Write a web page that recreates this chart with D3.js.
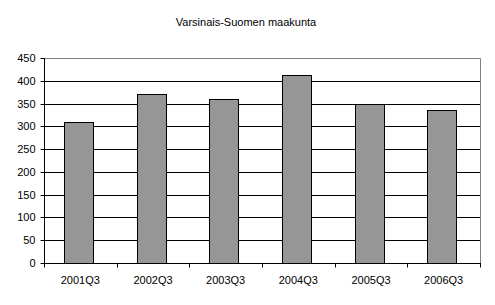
<!DOCTYPE html>
<html>
<head>
<meta charset="utf-8">
<script src="https://cdn.jsdelivr.net/npm/d3@7"></script>
<style>
  body { margin: 0; background: #fff; }
  text { font-family: 'Liberation Sans', Arial, sans-serif; fill: #000; }
</style>
</head>
<body>
<div id="bar-chart"></div>
<script>
const title = 'Varsinais-Suomen maakunta';
const categories = ['2001Q3', '2002Q3', '2003Q3', '2004Q3', '2005Q3', '2006Q3'];
const values = [310, 370, 360, 412, 349, 335];
const yTicks = [0, 50, 100, 150, 200, 250, 300, 350, 400, 450];

const width = 495;
const height = 305;
const margin = { top: 58, right: 15, bottom: 42, left: 44 };

const x_scale = d3
  .scaleBand()
  .range([margin.left, width - margin.right])
  .domain(categories)
  .paddingInner(0.6)
  .paddingOuter(0.3)
  .align(0.46);
// band edges for the category ticks
const x_edges = d3
  .scaleBand()
  .range([margin.left, width - margin.right])
  .domain(categories);
const y_scale = d3
  .scaleLinear()
  .range([height - margin.bottom, margin.top])
  .domain([0, 450]);

const svg = d3
  .select('#bar-chart')
  .append('svg')
  .attr('width', width)
  .attr('height', height)
  .attr('viewBox', [0, 0, width, height]);

svg
  .append('text')
  .attr('x', 246)
  .attr('y', 26)
  .attr('text-anchor', 'middle')
  .style('font-size', '11px')
  .text(title);

// gridlines
svg
  .append('g')
  .selectAll('line')
  .data(yTicks.filter((d) => d > 0 && d < 450))
  .enter()
  .append('line')
  .attr('x1', margin.left)
  .attr('x2', width - margin.right)
  .attr('y1', (d) => Math.round(y_scale(d)) + 0.5)
  .attr('y2', (d) => Math.round(y_scale(d)) + 0.5)
  .attr('stroke', '#000');

// plot area border (top / right)
svg
  .append('path')
  .attr(
    'd',
    `M${margin.left},${margin.top + 0.5}H${width - margin.right + 0.5}V${height - margin.bottom}`
  )
  .attr('fill', 'none')
  .attr('stroke', '#808080');

// bars
svg
  .append('g')
  .selectAll('rect')
  .data(values)
  .enter()
  .append('rect')
  .attr('x', (d, i) => Math.round(x_scale(categories[i])) + 0.5)
  .attr('y', (d) => Math.round(y_scale(d)) + 0.5)
  .attr('width', Math.round(x_scale.bandwidth()))
  .attr('height', (d) => Math.round(y_scale(0)) - Math.round(y_scale(d)))
  .attr('fill', '#969696')
  .attr('stroke', '#000');

// y axis
const yAxis = svg
  .append('g')
  .attr('transform', `translate(${margin.left + 0.5},0)`)
  .call(d3.axisLeft(y_scale).tickValues(yTicks).tickSize(4).tickPadding(5).tickSizeOuter(0));
yAxis.selectAll('.tick').attr('transform', (d) => `translate(0,${Math.round(y_scale(d)) + 0.5})`);
yAxis.selectAll('text').style('font-size', '11px').style('font-family', null);
yAxis.select('.domain').attr('d', `M0,${margin.top}V${height - margin.bottom + 1}`);

// x axis
const xAxis = svg
  .append('g')
  .attr('transform', `translate(0,${Math.round(y_scale(0)) + 0.5})`);
xAxis
  .append('line')
  .attr('x1', margin.left)
  .attr('x2', width - margin.right + 1)
  .attr('stroke', '#000');
xAxis
  .selectAll('.edge')
  .data(categories.map((c) => x_edges(c)).concat([width - margin.right]))
  .enter()
  .append('line')
  .attr('x1', (d) => Math.round(d) + 0.5)
  .attr('x2', (d) => Math.round(d) + 0.5)
  .attr('y1', 0)
  .attr('y2', 4)
  .attr('stroke', '#000');
xAxis
  .selectAll('.lbl')
  .data(categories)
  .enter()
  .append('text')
  .attr('x', (d) => x_edges(d) + x_edges.bandwidth() / 2)
  .attr('y', 20)
  .attr('text-anchor', 'middle')
  .style('font-size', '11px')
  .text((d) => d);
</script>
</body>
</html>
